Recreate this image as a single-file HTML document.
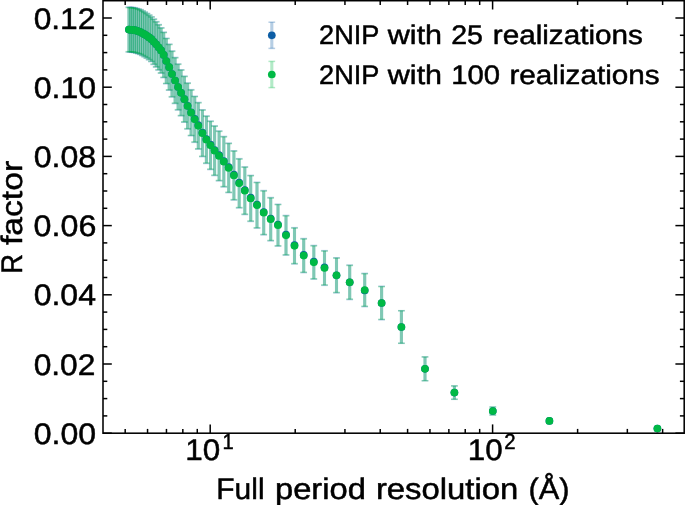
<!DOCTYPE html>
<html lang="en">
<head>
<meta charset="utf-8">
<title>R factor vs full period resolution</title>
<style>
html,body{margin:0;padding:0;background:#ffffff;}
body{width:685px;height:505px;overflow:hidden;font-family:"Liberation Sans",sans-serif;}
svg{display:block;will-change:transform;}
</style>
</head>
<body>
<svg width="685" height="505" viewBox="0 0 685 505">
<rect x="0" y="0" width="685" height="505" fill="#ffffff"/>
<g id="data">
<g stroke="#0C5DA5" stroke-opacity="0.3" fill="none">
<line x1="657.40" y1="428.00" x2="657.40" y2="429.20" stroke-width="3.1"/>
<line x1="549.40" y1="419.30" x2="549.40" y2="422.50" stroke-width="3.1"/>
<line x1="492.80" y1="407.00" x2="492.80" y2="415.00" stroke-width="3.1"/>
<line x1="454.40" y1="385.90" x2="454.40" y2="399.30" stroke-width="3.1"/>
<line x1="425.00" y1="356.90" x2="425.00" y2="380.70" stroke-width="3.1"/>
<line x1="401.40" y1="310.70" x2="401.40" y2="343.30" stroke-width="3.1"/>
<line x1="381.60" y1="286.25" x2="381.60" y2="319.75" stroke-width="3.1"/>
<line x1="364.70" y1="273.35" x2="364.70" y2="306.65" stroke-width="3.1"/>
<line x1="349.70" y1="265.05" x2="349.70" y2="299.55" stroke-width="3.1"/>
<line x1="336.50" y1="257.75" x2="336.50" y2="292.85" stroke-width="3.1"/>
<line x1="324.50" y1="250.65" x2="324.50" y2="285.35" stroke-width="3.1"/>
<line x1="313.80" y1="245.45" x2="313.80" y2="279.15" stroke-width="3.1"/>
<line x1="303.70" y1="238.55" x2="303.70" y2="272.65" stroke-width="3.1"/>
<line x1="294.50" y1="227.65" x2="294.50" y2="263.95" stroke-width="3.1"/>
<line x1="286.00" y1="215.45" x2="286.00" y2="255.15" stroke-width="3.1"/>
<line x1="278.00" y1="204.25" x2="278.00" y2="246.15" stroke-width="3.1"/>
<line x1="270.70" y1="197.55" x2="270.70" y2="240.85" stroke-width="3.1"/>
<line x1="263.70" y1="190.55" x2="263.70" y2="234.85" stroke-width="3.1"/>
<line x1="257.00" y1="182.25" x2="257.00" y2="228.15" stroke-width="3.1"/>
<line x1="250.70" y1="175.35" x2="250.70" y2="221.45" stroke-width="3.1"/>
<line x1="244.80" y1="166.85" x2="244.80" y2="214.55" stroke-width="3.1"/>
<line x1="239.20" y1="158.65" x2="239.20" y2="207.95" stroke-width="3.1"/>
<line x1="233.90" y1="150.75" x2="233.90" y2="200.05" stroke-width="3.1"/>
<line x1="228.70" y1="143.15" x2="228.70" y2="192.65" stroke-width="3.1"/>
<line x1="223.80" y1="136.45" x2="223.80" y2="186.95" stroke-width="3.1"/>
<line x1="219.10" y1="130.95" x2="219.10" y2="180.85" stroke-width="3.1"/>
<line x1="214.60" y1="125.85" x2="214.60" y2="175.55" stroke-width="3.1"/>
<line x1="210.50" y1="121.05" x2="210.50" y2="169.55" stroke-width="3.1"/>
<line x1="206.40" y1="115.95" x2="206.40" y2="163.45" stroke-width="3.1"/>
<line x1="202.40" y1="109.75" x2="202.40" y2="156.65" stroke-width="3.1"/>
<line x1="198.30" y1="102.45" x2="198.30" y2="149.15" stroke-width="3.1"/>
<line x1="194.70" y1="96.25" x2="194.70" y2="142.35" stroke-width="3.1"/>
<line x1="191.10" y1="89.65" x2="191.10" y2="135.75" stroke-width="3.1"/>
<line x1="187.60" y1="82.95" x2="187.60" y2="129.05" stroke-width="3.1"/>
<line x1="184.40" y1="76.15" x2="184.40" y2="122.25" stroke-width="3.1"/>
<line x1="181.10" y1="69.75" x2="181.10" y2="115.85" stroke-width="3.1"/>
<line x1="178.10" y1="63.95" x2="178.10" y2="110.05" stroke-width="3.1"/>
<line x1="175.10" y1="57.45" x2="175.10" y2="103.55" stroke-width="3.1"/>
<line x1="172.00" y1="50.95" x2="172.00" y2="97.05" stroke-width="3.1"/>
<line x1="169.20" y1="44.15" x2="169.20" y2="90.25" stroke-width="3.1"/>
<line x1="166.30" y1="38.25" x2="166.30" y2="83.75" stroke-width="3.1"/>
<line x1="163.70" y1="32.16" x2="163.70" y2="77.66" stroke-width="3.1"/>
<line x1="161.15" y1="27.72" x2="161.15" y2="73.22" stroke-width="3.1"/>
<line x1="158.65" y1="24.58" x2="158.65" y2="70.08" stroke-width="3.1"/>
<line x1="156.20" y1="21.60" x2="156.20" y2="67.10" stroke-width="3.1"/>
<line x1="153.80" y1="18.99" x2="153.80" y2="64.49" stroke-width="3.1"/>
<line x1="151.45" y1="16.74" x2="151.45" y2="61.64" stroke-width="3.1"/>
<line x1="149.15" y1="14.96" x2="149.15" y2="59.86" stroke-width="3.1"/>
<line x1="146.90" y1="13.38" x2="146.90" y2="58.28" stroke-width="3.1"/>
<line x1="144.70" y1="12.01" x2="144.70" y2="56.91" stroke-width="3.1"/>
<line x1="142.55" y1="10.80" x2="142.55" y2="55.70" stroke-width="3.1"/>
<line x1="140.45" y1="9.60" x2="140.45" y2="54.50" stroke-width="3.1"/>
<line x1="138.40" y1="8.87" x2="138.40" y2="53.77" stroke-width="3.1"/>
<line x1="136.40" y1="8.27" x2="136.40" y2="53.17" stroke-width="3.1"/>
<line x1="134.45" y1="7.68" x2="134.45" y2="52.58" stroke-width="3.1"/>
<line x1="132.55" y1="7.43" x2="132.55" y2="52.33" stroke-width="3.1"/>
<line x1="130.70" y1="7.29" x2="130.70" y2="52.19" stroke-width="3.1"/>
<line x1="128.90" y1="7.15" x2="128.90" y2="52.05" stroke-width="3.1"/>
<line x1="654.05" y1="428.00" x2="660.75" y2="428.00" stroke-width="1.5"/>
<line x1="654.05" y1="429.20" x2="660.75" y2="429.20" stroke-width="1.5"/>
<line x1="546.05" y1="419.30" x2="552.75" y2="419.30" stroke-width="1.5"/>
<line x1="546.05" y1="422.50" x2="552.75" y2="422.50" stroke-width="1.5"/>
<line x1="489.45" y1="407.00" x2="496.15" y2="407.00" stroke-width="1.5"/>
<line x1="489.45" y1="415.00" x2="496.15" y2="415.00" stroke-width="1.5"/>
<line x1="451.05" y1="385.90" x2="457.75" y2="385.90" stroke-width="1.5"/>
<line x1="451.05" y1="399.30" x2="457.75" y2="399.30" stroke-width="1.5"/>
<line x1="421.65" y1="356.90" x2="428.35" y2="356.90" stroke-width="1.5"/>
<line x1="421.65" y1="380.70" x2="428.35" y2="380.70" stroke-width="1.5"/>
<line x1="398.05" y1="310.70" x2="404.75" y2="310.70" stroke-width="1.5"/>
<line x1="398.05" y1="343.30" x2="404.75" y2="343.30" stroke-width="1.5"/>
<line x1="378.25" y1="286.25" x2="384.95" y2="286.25" stroke-width="1.5"/>
<line x1="378.25" y1="319.75" x2="384.95" y2="319.75" stroke-width="1.5"/>
<line x1="361.35" y1="273.35" x2="368.05" y2="273.35" stroke-width="1.5"/>
<line x1="361.35" y1="306.65" x2="368.05" y2="306.65" stroke-width="1.5"/>
<line x1="346.35" y1="265.05" x2="353.05" y2="265.05" stroke-width="1.5"/>
<line x1="346.35" y1="299.55" x2="353.05" y2="299.55" stroke-width="1.5"/>
<line x1="333.15" y1="257.75" x2="339.85" y2="257.75" stroke-width="1.5"/>
<line x1="333.15" y1="292.85" x2="339.85" y2="292.85" stroke-width="1.5"/>
<line x1="321.15" y1="250.65" x2="327.85" y2="250.65" stroke-width="1.5"/>
<line x1="321.15" y1="285.35" x2="327.85" y2="285.35" stroke-width="1.5"/>
<line x1="310.45" y1="245.45" x2="317.15" y2="245.45" stroke-width="1.5"/>
<line x1="310.45" y1="279.15" x2="317.15" y2="279.15" stroke-width="1.5"/>
<line x1="300.35" y1="238.55" x2="307.05" y2="238.55" stroke-width="1.5"/>
<line x1="300.35" y1="272.65" x2="307.05" y2="272.65" stroke-width="1.5"/>
<line x1="291.15" y1="227.65" x2="297.85" y2="227.65" stroke-width="1.5"/>
<line x1="291.15" y1="263.95" x2="297.85" y2="263.95" stroke-width="1.5"/>
<line x1="282.65" y1="215.45" x2="289.35" y2="215.45" stroke-width="1.5"/>
<line x1="282.65" y1="255.15" x2="289.35" y2="255.15" stroke-width="1.5"/>
<line x1="274.65" y1="204.25" x2="281.35" y2="204.25" stroke-width="1.5"/>
<line x1="274.65" y1="246.15" x2="281.35" y2="246.15" stroke-width="1.5"/>
<line x1="267.35" y1="197.55" x2="274.05" y2="197.55" stroke-width="1.5"/>
<line x1="267.35" y1="240.85" x2="274.05" y2="240.85" stroke-width="1.5"/>
<line x1="260.35" y1="190.55" x2="267.05" y2="190.55" stroke-width="1.5"/>
<line x1="260.35" y1="234.85" x2="267.05" y2="234.85" stroke-width="1.5"/>
<line x1="253.65" y1="182.25" x2="260.35" y2="182.25" stroke-width="1.5"/>
<line x1="253.65" y1="228.15" x2="260.35" y2="228.15" stroke-width="1.5"/>
<line x1="247.35" y1="175.35" x2="254.05" y2="175.35" stroke-width="1.5"/>
<line x1="247.35" y1="221.45" x2="254.05" y2="221.45" stroke-width="1.5"/>
<line x1="241.45" y1="166.85" x2="248.15" y2="166.85" stroke-width="1.5"/>
<line x1="241.45" y1="214.55" x2="248.15" y2="214.55" stroke-width="1.5"/>
<line x1="235.85" y1="158.65" x2="242.55" y2="158.65" stroke-width="1.5"/>
<line x1="235.85" y1="207.95" x2="242.55" y2="207.95" stroke-width="1.5"/>
<line x1="230.55" y1="150.75" x2="237.25" y2="150.75" stroke-width="1.5"/>
<line x1="230.55" y1="200.05" x2="237.25" y2="200.05" stroke-width="1.5"/>
<line x1="225.35" y1="143.15" x2="232.05" y2="143.15" stroke-width="1.5"/>
<line x1="225.35" y1="192.65" x2="232.05" y2="192.65" stroke-width="1.5"/>
<line x1="220.45" y1="136.45" x2="227.15" y2="136.45" stroke-width="1.5"/>
<line x1="220.45" y1="186.95" x2="227.15" y2="186.95" stroke-width="1.5"/>
<line x1="215.75" y1="130.95" x2="222.45" y2="130.95" stroke-width="1.5"/>
<line x1="215.75" y1="180.85" x2="222.45" y2="180.85" stroke-width="1.5"/>
<line x1="211.25" y1="125.85" x2="217.95" y2="125.85" stroke-width="1.5"/>
<line x1="211.25" y1="175.55" x2="217.95" y2="175.55" stroke-width="1.5"/>
<line x1="207.15" y1="121.05" x2="213.85" y2="121.05" stroke-width="1.5"/>
<line x1="207.15" y1="169.55" x2="213.85" y2="169.55" stroke-width="1.5"/>
<line x1="203.05" y1="115.95" x2="209.75" y2="115.95" stroke-width="1.5"/>
<line x1="203.05" y1="163.45" x2="209.75" y2="163.45" stroke-width="1.5"/>
<line x1="199.05" y1="109.75" x2="205.75" y2="109.75" stroke-width="1.5"/>
<line x1="199.05" y1="156.65" x2="205.75" y2="156.65" stroke-width="1.5"/>
<line x1="194.95" y1="102.45" x2="201.65" y2="102.45" stroke-width="1.5"/>
<line x1="194.95" y1="149.15" x2="201.65" y2="149.15" stroke-width="1.5"/>
<line x1="191.35" y1="96.25" x2="198.05" y2="96.25" stroke-width="1.5"/>
<line x1="191.35" y1="142.35" x2="198.05" y2="142.35" stroke-width="1.5"/>
<line x1="187.75" y1="89.65" x2="194.45" y2="89.65" stroke-width="1.5"/>
<line x1="187.75" y1="135.75" x2="194.45" y2="135.75" stroke-width="1.5"/>
<line x1="184.25" y1="82.95" x2="190.95" y2="82.95" stroke-width="1.5"/>
<line x1="184.25" y1="129.05" x2="190.95" y2="129.05" stroke-width="1.5"/>
<line x1="181.05" y1="76.15" x2="187.75" y2="76.15" stroke-width="1.5"/>
<line x1="181.05" y1="122.25" x2="187.75" y2="122.25" stroke-width="1.5"/>
<line x1="177.75" y1="69.75" x2="184.45" y2="69.75" stroke-width="1.5"/>
<line x1="177.75" y1="115.85" x2="184.45" y2="115.85" stroke-width="1.5"/>
<line x1="174.75" y1="63.95" x2="181.45" y2="63.95" stroke-width="1.5"/>
<line x1="174.75" y1="110.05" x2="181.45" y2="110.05" stroke-width="1.5"/>
<line x1="171.75" y1="57.45" x2="178.45" y2="57.45" stroke-width="1.5"/>
<line x1="171.75" y1="103.55" x2="178.45" y2="103.55" stroke-width="1.5"/>
<line x1="168.65" y1="50.95" x2="175.35" y2="50.95" stroke-width="1.5"/>
<line x1="168.65" y1="97.05" x2="175.35" y2="97.05" stroke-width="1.5"/>
<line x1="165.85" y1="44.15" x2="172.55" y2="44.15" stroke-width="1.5"/>
<line x1="165.85" y1="90.25" x2="172.55" y2="90.25" stroke-width="1.5"/>
<line x1="162.95" y1="38.25" x2="169.65" y2="38.25" stroke-width="1.5"/>
<line x1="162.95" y1="83.75" x2="169.65" y2="83.75" stroke-width="1.5"/>
<line x1="160.35" y1="32.16" x2="167.05" y2="32.16" stroke-width="1.5"/>
<line x1="160.35" y1="77.66" x2="167.05" y2="77.66" stroke-width="1.5"/>
<line x1="157.80" y1="27.72" x2="164.50" y2="27.72" stroke-width="1.5"/>
<line x1="157.80" y1="73.22" x2="164.50" y2="73.22" stroke-width="1.5"/>
<line x1="155.30" y1="24.58" x2="162.00" y2="24.58" stroke-width="1.5"/>
<line x1="155.30" y1="70.08" x2="162.00" y2="70.08" stroke-width="1.5"/>
<line x1="152.85" y1="21.60" x2="159.55" y2="21.60" stroke-width="1.5"/>
<line x1="152.85" y1="67.10" x2="159.55" y2="67.10" stroke-width="1.5"/>
<line x1="150.45" y1="18.99" x2="157.15" y2="18.99" stroke-width="1.5"/>
<line x1="150.45" y1="64.49" x2="157.15" y2="64.49" stroke-width="1.5"/>
<line x1="148.10" y1="16.74" x2="154.80" y2="16.74" stroke-width="1.5"/>
<line x1="148.10" y1="61.64" x2="154.80" y2="61.64" stroke-width="1.5"/>
<line x1="145.80" y1="14.96" x2="152.50" y2="14.96" stroke-width="1.5"/>
<line x1="145.80" y1="59.86" x2="152.50" y2="59.86" stroke-width="1.5"/>
<line x1="143.55" y1="13.38" x2="150.25" y2="13.38" stroke-width="1.5"/>
<line x1="143.55" y1="58.28" x2="150.25" y2="58.28" stroke-width="1.5"/>
<line x1="141.35" y1="12.01" x2="148.05" y2="12.01" stroke-width="1.5"/>
<line x1="141.35" y1="56.91" x2="148.05" y2="56.91" stroke-width="1.5"/>
<line x1="139.20" y1="10.80" x2="145.90" y2="10.80" stroke-width="1.5"/>
<line x1="139.20" y1="55.70" x2="145.90" y2="55.70" stroke-width="1.5"/>
<line x1="137.10" y1="9.60" x2="143.80" y2="9.60" stroke-width="1.5"/>
<line x1="137.10" y1="54.50" x2="143.80" y2="54.50" stroke-width="1.5"/>
<line x1="135.05" y1="8.87" x2="141.75" y2="8.87" stroke-width="1.5"/>
<line x1="135.05" y1="53.77" x2="141.75" y2="53.77" stroke-width="1.5"/>
<line x1="133.05" y1="8.27" x2="139.75" y2="8.27" stroke-width="1.5"/>
<line x1="133.05" y1="53.17" x2="139.75" y2="53.17" stroke-width="1.5"/>
<line x1="131.10" y1="7.68" x2="137.80" y2="7.68" stroke-width="1.5"/>
<line x1="131.10" y1="52.58" x2="137.80" y2="52.58" stroke-width="1.5"/>
<line x1="129.20" y1="7.43" x2="135.90" y2="7.43" stroke-width="1.5"/>
<line x1="129.20" y1="52.33" x2="135.90" y2="52.33" stroke-width="1.5"/>
<line x1="127.35" y1="7.29" x2="134.05" y2="7.29" stroke-width="1.5"/>
<line x1="127.35" y1="52.19" x2="134.05" y2="52.19" stroke-width="1.5"/>
<line x1="125.55" y1="7.15" x2="132.25" y2="7.15" stroke-width="1.5"/>
<line x1="125.55" y1="52.05" x2="132.25" y2="52.05" stroke-width="1.5"/>
</g>
<g stroke="#00B945" stroke-opacity="0.3" fill="none">
<line x1="657.40" y1="428.00" x2="657.40" y2="429.20" stroke-width="3.1"/>
<line x1="549.40" y1="419.30" x2="549.40" y2="422.50" stroke-width="3.1"/>
<line x1="492.80" y1="407.00" x2="492.80" y2="415.00" stroke-width="3.1"/>
<line x1="454.40" y1="385.90" x2="454.40" y2="399.30" stroke-width="3.1"/>
<line x1="425.00" y1="356.90" x2="425.00" y2="380.70" stroke-width="3.1"/>
<line x1="401.40" y1="310.70" x2="401.40" y2="343.30" stroke-width="3.1"/>
<line x1="381.60" y1="286.70" x2="381.60" y2="319.30" stroke-width="3.1"/>
<line x1="364.70" y1="273.80" x2="364.70" y2="306.20" stroke-width="3.1"/>
<line x1="349.70" y1="265.50" x2="349.70" y2="299.10" stroke-width="3.1"/>
<line x1="336.50" y1="258.20" x2="336.50" y2="292.40" stroke-width="3.1"/>
<line x1="324.50" y1="251.10" x2="324.50" y2="284.90" stroke-width="3.1"/>
<line x1="313.80" y1="245.90" x2="313.80" y2="278.70" stroke-width="3.1"/>
<line x1="303.70" y1="239.00" x2="303.70" y2="272.20" stroke-width="3.1"/>
<line x1="294.50" y1="228.10" x2="294.50" y2="263.50" stroke-width="3.1"/>
<line x1="286.00" y1="215.90" x2="286.00" y2="254.70" stroke-width="3.1"/>
<line x1="278.00" y1="204.70" x2="278.00" y2="245.70" stroke-width="3.1"/>
<line x1="270.70" y1="198.00" x2="270.70" y2="240.40" stroke-width="3.1"/>
<line x1="263.70" y1="191.00" x2="263.70" y2="234.40" stroke-width="3.1"/>
<line x1="257.00" y1="182.70" x2="257.00" y2="227.70" stroke-width="3.1"/>
<line x1="250.70" y1="175.80" x2="250.70" y2="221.00" stroke-width="3.1"/>
<line x1="244.80" y1="167.30" x2="244.80" y2="214.10" stroke-width="3.1"/>
<line x1="239.20" y1="159.10" x2="239.20" y2="207.50" stroke-width="3.1"/>
<line x1="233.90" y1="151.20" x2="233.90" y2="199.60" stroke-width="3.1"/>
<line x1="228.70" y1="143.60" x2="228.70" y2="192.20" stroke-width="3.1"/>
<line x1="223.80" y1="136.90" x2="223.80" y2="186.50" stroke-width="3.1"/>
<line x1="219.10" y1="131.40" x2="219.10" y2="180.40" stroke-width="3.1"/>
<line x1="214.60" y1="126.30" x2="214.60" y2="175.10" stroke-width="3.1"/>
<line x1="210.50" y1="121.50" x2="210.50" y2="169.10" stroke-width="3.1"/>
<line x1="206.40" y1="116.40" x2="206.40" y2="163.00" stroke-width="3.1"/>
<line x1="202.40" y1="110.20" x2="202.40" y2="156.20" stroke-width="3.1"/>
<line x1="198.30" y1="102.90" x2="198.30" y2="148.70" stroke-width="3.1"/>
<line x1="194.70" y1="96.70" x2="194.70" y2="141.90" stroke-width="3.1"/>
<line x1="191.10" y1="90.10" x2="191.10" y2="135.30" stroke-width="3.1"/>
<line x1="187.60" y1="83.40" x2="187.60" y2="128.60" stroke-width="3.1"/>
<line x1="184.40" y1="76.60" x2="184.40" y2="121.80" stroke-width="3.1"/>
<line x1="181.10" y1="70.20" x2="181.10" y2="115.40" stroke-width="3.1"/>
<line x1="178.10" y1="64.40" x2="178.10" y2="109.60" stroke-width="3.1"/>
<line x1="175.10" y1="57.90" x2="175.10" y2="103.10" stroke-width="3.1"/>
<line x1="172.00" y1="51.40" x2="172.00" y2="96.60" stroke-width="3.1"/>
<line x1="169.20" y1="44.60" x2="169.20" y2="89.80" stroke-width="3.1"/>
<line x1="166.30" y1="38.70" x2="166.30" y2="83.30" stroke-width="3.1"/>
<line x1="163.70" y1="32.61" x2="163.70" y2="77.21" stroke-width="3.1"/>
<line x1="161.15" y1="28.17" x2="161.15" y2="72.77" stroke-width="3.1"/>
<line x1="158.65" y1="25.03" x2="158.65" y2="69.63" stroke-width="3.1"/>
<line x1="156.20" y1="22.05" x2="156.20" y2="66.65" stroke-width="3.1"/>
<line x1="153.80" y1="19.44" x2="153.80" y2="64.04" stroke-width="3.1"/>
<line x1="151.45" y1="17.19" x2="151.45" y2="61.19" stroke-width="3.1"/>
<line x1="149.15" y1="15.41" x2="149.15" y2="59.41" stroke-width="3.1"/>
<line x1="146.90" y1="13.83" x2="146.90" y2="57.83" stroke-width="3.1"/>
<line x1="144.70" y1="12.46" x2="144.70" y2="56.46" stroke-width="3.1"/>
<line x1="142.55" y1="11.25" x2="142.55" y2="55.25" stroke-width="3.1"/>
<line x1="140.45" y1="10.05" x2="140.45" y2="54.05" stroke-width="3.1"/>
<line x1="138.40" y1="9.32" x2="138.40" y2="53.32" stroke-width="3.1"/>
<line x1="136.40" y1="8.72" x2="136.40" y2="52.72" stroke-width="3.1"/>
<line x1="134.45" y1="8.13" x2="134.45" y2="52.13" stroke-width="3.1"/>
<line x1="132.55" y1="7.88" x2="132.55" y2="51.88" stroke-width="3.1"/>
<line x1="130.70" y1="7.74" x2="130.70" y2="51.74" stroke-width="3.1"/>
<line x1="128.90" y1="7.60" x2="128.90" y2="51.60" stroke-width="3.1"/>
<line x1="654.05" y1="428.00" x2="660.75" y2="428.00" stroke-width="1.5"/>
<line x1="654.05" y1="429.20" x2="660.75" y2="429.20" stroke-width="1.5"/>
<line x1="546.05" y1="419.30" x2="552.75" y2="419.30" stroke-width="1.5"/>
<line x1="546.05" y1="422.50" x2="552.75" y2="422.50" stroke-width="1.5"/>
<line x1="489.45" y1="407.00" x2="496.15" y2="407.00" stroke-width="1.5"/>
<line x1="489.45" y1="415.00" x2="496.15" y2="415.00" stroke-width="1.5"/>
<line x1="451.05" y1="385.90" x2="457.75" y2="385.90" stroke-width="1.5"/>
<line x1="451.05" y1="399.30" x2="457.75" y2="399.30" stroke-width="1.5"/>
<line x1="421.65" y1="356.90" x2="428.35" y2="356.90" stroke-width="1.5"/>
<line x1="421.65" y1="380.70" x2="428.35" y2="380.70" stroke-width="1.5"/>
<line x1="398.05" y1="310.70" x2="404.75" y2="310.70" stroke-width="1.5"/>
<line x1="398.05" y1="343.30" x2="404.75" y2="343.30" stroke-width="1.5"/>
<line x1="378.25" y1="286.70" x2="384.95" y2="286.70" stroke-width="1.5"/>
<line x1="378.25" y1="319.30" x2="384.95" y2="319.30" stroke-width="1.5"/>
<line x1="361.35" y1="273.80" x2="368.05" y2="273.80" stroke-width="1.5"/>
<line x1="361.35" y1="306.20" x2="368.05" y2="306.20" stroke-width="1.5"/>
<line x1="346.35" y1="265.50" x2="353.05" y2="265.50" stroke-width="1.5"/>
<line x1="346.35" y1="299.10" x2="353.05" y2="299.10" stroke-width="1.5"/>
<line x1="333.15" y1="258.20" x2="339.85" y2="258.20" stroke-width="1.5"/>
<line x1="333.15" y1="292.40" x2="339.85" y2="292.40" stroke-width="1.5"/>
<line x1="321.15" y1="251.10" x2="327.85" y2="251.10" stroke-width="1.5"/>
<line x1="321.15" y1="284.90" x2="327.85" y2="284.90" stroke-width="1.5"/>
<line x1="310.45" y1="245.90" x2="317.15" y2="245.90" stroke-width="1.5"/>
<line x1="310.45" y1="278.70" x2="317.15" y2="278.70" stroke-width="1.5"/>
<line x1="300.35" y1="239.00" x2="307.05" y2="239.00" stroke-width="1.5"/>
<line x1="300.35" y1="272.20" x2="307.05" y2="272.20" stroke-width="1.5"/>
<line x1="291.15" y1="228.10" x2="297.85" y2="228.10" stroke-width="1.5"/>
<line x1="291.15" y1="263.50" x2="297.85" y2="263.50" stroke-width="1.5"/>
<line x1="282.65" y1="215.90" x2="289.35" y2="215.90" stroke-width="1.5"/>
<line x1="282.65" y1="254.70" x2="289.35" y2="254.70" stroke-width="1.5"/>
<line x1="274.65" y1="204.70" x2="281.35" y2="204.70" stroke-width="1.5"/>
<line x1="274.65" y1="245.70" x2="281.35" y2="245.70" stroke-width="1.5"/>
<line x1="267.35" y1="198.00" x2="274.05" y2="198.00" stroke-width="1.5"/>
<line x1="267.35" y1="240.40" x2="274.05" y2="240.40" stroke-width="1.5"/>
<line x1="260.35" y1="191.00" x2="267.05" y2="191.00" stroke-width="1.5"/>
<line x1="260.35" y1="234.40" x2="267.05" y2="234.40" stroke-width="1.5"/>
<line x1="253.65" y1="182.70" x2="260.35" y2="182.70" stroke-width="1.5"/>
<line x1="253.65" y1="227.70" x2="260.35" y2="227.70" stroke-width="1.5"/>
<line x1="247.35" y1="175.80" x2="254.05" y2="175.80" stroke-width="1.5"/>
<line x1="247.35" y1="221.00" x2="254.05" y2="221.00" stroke-width="1.5"/>
<line x1="241.45" y1="167.30" x2="248.15" y2="167.30" stroke-width="1.5"/>
<line x1="241.45" y1="214.10" x2="248.15" y2="214.10" stroke-width="1.5"/>
<line x1="235.85" y1="159.10" x2="242.55" y2="159.10" stroke-width="1.5"/>
<line x1="235.85" y1="207.50" x2="242.55" y2="207.50" stroke-width="1.5"/>
<line x1="230.55" y1="151.20" x2="237.25" y2="151.20" stroke-width="1.5"/>
<line x1="230.55" y1="199.60" x2="237.25" y2="199.60" stroke-width="1.5"/>
<line x1="225.35" y1="143.60" x2="232.05" y2="143.60" stroke-width="1.5"/>
<line x1="225.35" y1="192.20" x2="232.05" y2="192.20" stroke-width="1.5"/>
<line x1="220.45" y1="136.90" x2="227.15" y2="136.90" stroke-width="1.5"/>
<line x1="220.45" y1="186.50" x2="227.15" y2="186.50" stroke-width="1.5"/>
<line x1="215.75" y1="131.40" x2="222.45" y2="131.40" stroke-width="1.5"/>
<line x1="215.75" y1="180.40" x2="222.45" y2="180.40" stroke-width="1.5"/>
<line x1="211.25" y1="126.30" x2="217.95" y2="126.30" stroke-width="1.5"/>
<line x1="211.25" y1="175.10" x2="217.95" y2="175.10" stroke-width="1.5"/>
<line x1="207.15" y1="121.50" x2="213.85" y2="121.50" stroke-width="1.5"/>
<line x1="207.15" y1="169.10" x2="213.85" y2="169.10" stroke-width="1.5"/>
<line x1="203.05" y1="116.40" x2="209.75" y2="116.40" stroke-width="1.5"/>
<line x1="203.05" y1="163.00" x2="209.75" y2="163.00" stroke-width="1.5"/>
<line x1="199.05" y1="110.20" x2="205.75" y2="110.20" stroke-width="1.5"/>
<line x1="199.05" y1="156.20" x2="205.75" y2="156.20" stroke-width="1.5"/>
<line x1="194.95" y1="102.90" x2="201.65" y2="102.90" stroke-width="1.5"/>
<line x1="194.95" y1="148.70" x2="201.65" y2="148.70" stroke-width="1.5"/>
<line x1="191.35" y1="96.70" x2="198.05" y2="96.70" stroke-width="1.5"/>
<line x1="191.35" y1="141.90" x2="198.05" y2="141.90" stroke-width="1.5"/>
<line x1="187.75" y1="90.10" x2="194.45" y2="90.10" stroke-width="1.5"/>
<line x1="187.75" y1="135.30" x2="194.45" y2="135.30" stroke-width="1.5"/>
<line x1="184.25" y1="83.40" x2="190.95" y2="83.40" stroke-width="1.5"/>
<line x1="184.25" y1="128.60" x2="190.95" y2="128.60" stroke-width="1.5"/>
<line x1="181.05" y1="76.60" x2="187.75" y2="76.60" stroke-width="1.5"/>
<line x1="181.05" y1="121.80" x2="187.75" y2="121.80" stroke-width="1.5"/>
<line x1="177.75" y1="70.20" x2="184.45" y2="70.20" stroke-width="1.5"/>
<line x1="177.75" y1="115.40" x2="184.45" y2="115.40" stroke-width="1.5"/>
<line x1="174.75" y1="64.40" x2="181.45" y2="64.40" stroke-width="1.5"/>
<line x1="174.75" y1="109.60" x2="181.45" y2="109.60" stroke-width="1.5"/>
<line x1="171.75" y1="57.90" x2="178.45" y2="57.90" stroke-width="1.5"/>
<line x1="171.75" y1="103.10" x2="178.45" y2="103.10" stroke-width="1.5"/>
<line x1="168.65" y1="51.40" x2="175.35" y2="51.40" stroke-width="1.5"/>
<line x1="168.65" y1="96.60" x2="175.35" y2="96.60" stroke-width="1.5"/>
<line x1="165.85" y1="44.60" x2="172.55" y2="44.60" stroke-width="1.5"/>
<line x1="165.85" y1="89.80" x2="172.55" y2="89.80" stroke-width="1.5"/>
<line x1="162.95" y1="38.70" x2="169.65" y2="38.70" stroke-width="1.5"/>
<line x1="162.95" y1="83.30" x2="169.65" y2="83.30" stroke-width="1.5"/>
<line x1="160.35" y1="32.61" x2="167.05" y2="32.61" stroke-width="1.5"/>
<line x1="160.35" y1="77.21" x2="167.05" y2="77.21" stroke-width="1.5"/>
<line x1="157.80" y1="28.17" x2="164.50" y2="28.17" stroke-width="1.5"/>
<line x1="157.80" y1="72.77" x2="164.50" y2="72.77" stroke-width="1.5"/>
<line x1="155.30" y1="25.03" x2="162.00" y2="25.03" stroke-width="1.5"/>
<line x1="155.30" y1="69.63" x2="162.00" y2="69.63" stroke-width="1.5"/>
<line x1="152.85" y1="22.05" x2="159.55" y2="22.05" stroke-width="1.5"/>
<line x1="152.85" y1="66.65" x2="159.55" y2="66.65" stroke-width="1.5"/>
<line x1="150.45" y1="19.44" x2="157.15" y2="19.44" stroke-width="1.5"/>
<line x1="150.45" y1="64.04" x2="157.15" y2="64.04" stroke-width="1.5"/>
<line x1="148.10" y1="17.19" x2="154.80" y2="17.19" stroke-width="1.5"/>
<line x1="148.10" y1="61.19" x2="154.80" y2="61.19" stroke-width="1.5"/>
<line x1="145.80" y1="15.41" x2="152.50" y2="15.41" stroke-width="1.5"/>
<line x1="145.80" y1="59.41" x2="152.50" y2="59.41" stroke-width="1.5"/>
<line x1="143.55" y1="13.83" x2="150.25" y2="13.83" stroke-width="1.5"/>
<line x1="143.55" y1="57.83" x2="150.25" y2="57.83" stroke-width="1.5"/>
<line x1="141.35" y1="12.46" x2="148.05" y2="12.46" stroke-width="1.5"/>
<line x1="141.35" y1="56.46" x2="148.05" y2="56.46" stroke-width="1.5"/>
<line x1="139.20" y1="11.25" x2="145.90" y2="11.25" stroke-width="1.5"/>
<line x1="139.20" y1="55.25" x2="145.90" y2="55.25" stroke-width="1.5"/>
<line x1="137.10" y1="10.05" x2="143.80" y2="10.05" stroke-width="1.5"/>
<line x1="137.10" y1="54.05" x2="143.80" y2="54.05" stroke-width="1.5"/>
<line x1="135.05" y1="9.32" x2="141.75" y2="9.32" stroke-width="1.5"/>
<line x1="135.05" y1="53.32" x2="141.75" y2="53.32" stroke-width="1.5"/>
<line x1="133.05" y1="8.72" x2="139.75" y2="8.72" stroke-width="1.5"/>
<line x1="133.05" y1="52.72" x2="139.75" y2="52.72" stroke-width="1.5"/>
<line x1="131.10" y1="8.13" x2="137.80" y2="8.13" stroke-width="1.5"/>
<line x1="131.10" y1="52.13" x2="137.80" y2="52.13" stroke-width="1.5"/>
<line x1="129.20" y1="7.88" x2="135.90" y2="7.88" stroke-width="1.5"/>
<line x1="129.20" y1="51.88" x2="135.90" y2="51.88" stroke-width="1.5"/>
<line x1="127.35" y1="7.74" x2="134.05" y2="7.74" stroke-width="1.5"/>
<line x1="127.35" y1="51.74" x2="134.05" y2="51.74" stroke-width="1.5"/>
<line x1="125.55" y1="7.60" x2="132.25" y2="7.60" stroke-width="1.5"/>
<line x1="125.55" y1="51.60" x2="132.25" y2="51.60" stroke-width="1.5"/>
</g>
<g fill="#0C5DA5">
<circle cx="657.40" cy="428.60" r="3.85"/>
<circle cx="549.40" cy="420.90" r="3.85"/>
<circle cx="492.80" cy="411.00" r="3.85"/>
<circle cx="454.40" cy="392.60" r="3.85"/>
<circle cx="425.00" cy="368.80" r="3.85"/>
<circle cx="401.40" cy="327.00" r="3.85"/>
<circle cx="381.60" cy="303.00" r="3.85"/>
<circle cx="364.70" cy="290.50" r="3.85"/>
<circle cx="349.70" cy="282.30" r="3.85"/>
<circle cx="336.50" cy="275.30" r="3.85"/>
<circle cx="324.50" cy="267.30" r="3.85"/>
<circle cx="313.80" cy="261.60" r="3.85"/>
<circle cx="303.70" cy="254.90" r="3.85"/>
<circle cx="294.50" cy="245.10" r="3.85"/>
<circle cx="286.00" cy="234.60" r="3.85"/>
<circle cx="278.00" cy="224.50" r="3.85"/>
<circle cx="270.70" cy="218.50" r="3.85"/>
<circle cx="263.70" cy="212.00" r="3.85"/>
<circle cx="257.00" cy="204.50" r="3.85"/>
<circle cx="250.70" cy="197.70" r="3.85"/>
<circle cx="244.80" cy="190.00" r="3.85"/>
<circle cx="239.20" cy="182.60" r="3.85"/>
<circle cx="233.90" cy="174.70" r="3.85"/>
<circle cx="228.70" cy="167.20" r="3.85"/>
<circle cx="223.80" cy="161.00" r="3.85"/>
<circle cx="219.10" cy="155.20" r="3.85"/>
<circle cx="214.60" cy="150.00" r="3.85"/>
<circle cx="210.50" cy="144.60" r="3.85"/>
<circle cx="206.40" cy="139.00" r="3.85"/>
<circle cx="202.40" cy="132.50" r="3.85"/>
<circle cx="198.30" cy="125.10" r="3.85"/>
<circle cx="194.70" cy="118.77" r="3.85"/>
<circle cx="191.10" cy="112.35" r="3.85"/>
<circle cx="187.60" cy="105.83" r="3.85"/>
<circle cx="184.40" cy="99.20" r="3.85"/>
<circle cx="181.10" cy="92.80" r="3.85"/>
<circle cx="178.10" cy="87.00" r="3.85"/>
<circle cx="175.10" cy="80.50" r="3.85"/>
<circle cx="172.00" cy="74.00" r="3.85"/>
<circle cx="169.20" cy="67.20" r="3.85"/>
<circle cx="166.30" cy="61.00" r="3.85"/>
<circle cx="163.70" cy="54.91" r="3.85"/>
<circle cx="161.15" cy="50.47" r="3.85"/>
<circle cx="158.65" cy="47.33" r="3.85"/>
<circle cx="156.20" cy="44.35" r="3.85"/>
<circle cx="153.80" cy="41.74" r="3.85"/>
<circle cx="151.45" cy="39.19" r="3.85"/>
<circle cx="149.15" cy="37.41" r="3.85"/>
<circle cx="146.90" cy="35.83" r="3.85"/>
<circle cx="144.70" cy="34.46" r="3.85"/>
<circle cx="142.55" cy="33.25" r="3.85"/>
<circle cx="140.45" cy="32.05" r="3.85"/>
<circle cx="138.40" cy="31.32" r="3.85"/>
<circle cx="136.40" cy="30.72" r="3.85"/>
<circle cx="134.45" cy="30.13" r="3.85"/>
<circle cx="132.55" cy="29.88" r="3.85"/>
<circle cx="130.70" cy="29.74" r="3.85"/>
<circle cx="128.90" cy="29.60" r="3.85"/>
</g>
<g fill="#00B945">
<circle cx="657.40" cy="428.60" r="3.85"/>
<circle cx="549.40" cy="420.90" r="3.85"/>
<circle cx="492.80" cy="411.00" r="3.85"/>
<circle cx="454.40" cy="392.60" r="3.85"/>
<circle cx="425.00" cy="368.80" r="3.85"/>
<circle cx="401.40" cy="327.00" r="3.85"/>
<circle cx="381.60" cy="303.00" r="3.85"/>
<circle cx="364.70" cy="290.00" r="3.85"/>
<circle cx="349.70" cy="282.30" r="3.85"/>
<circle cx="336.50" cy="275.30" r="3.85"/>
<circle cx="324.50" cy="268.00" r="3.85"/>
<circle cx="313.80" cy="262.30" r="3.85"/>
<circle cx="303.70" cy="255.60" r="3.85"/>
<circle cx="294.50" cy="245.80" r="3.85"/>
<circle cx="286.00" cy="235.30" r="3.85"/>
<circle cx="278.00" cy="225.20" r="3.85"/>
<circle cx="270.70" cy="219.20" r="3.85"/>
<circle cx="263.70" cy="212.70" r="3.85"/>
<circle cx="257.00" cy="205.20" r="3.85"/>
<circle cx="250.70" cy="198.40" r="3.85"/>
<circle cx="244.80" cy="190.70" r="3.85"/>
<circle cx="239.20" cy="183.30" r="3.85"/>
<circle cx="233.90" cy="175.40" r="3.85"/>
<circle cx="228.70" cy="167.90" r="3.85"/>
<circle cx="223.80" cy="161.70" r="3.85"/>
<circle cx="219.10" cy="155.90" r="3.85"/>
<circle cx="214.60" cy="150.70" r="3.85"/>
<circle cx="210.50" cy="145.30" r="3.85"/>
<circle cx="206.40" cy="139.70" r="3.85"/>
<circle cx="202.40" cy="133.20" r="3.85"/>
<circle cx="198.30" cy="125.80" r="3.85"/>
<circle cx="194.70" cy="119.30" r="3.85"/>
<circle cx="191.10" cy="112.70" r="3.85"/>
<circle cx="187.60" cy="106.00" r="3.85"/>
<circle cx="184.40" cy="99.20" r="3.85"/>
<circle cx="181.10" cy="92.80" r="3.85"/>
<circle cx="178.10" cy="87.00" r="3.85"/>
<circle cx="175.10" cy="80.50" r="3.85"/>
<circle cx="172.00" cy="74.00" r="3.85"/>
<circle cx="169.20" cy="67.20" r="3.85"/>
<circle cx="166.30" cy="61.00" r="3.85"/>
<circle cx="163.70" cy="54.91" r="3.85"/>
<circle cx="161.15" cy="50.47" r="3.85"/>
<circle cx="158.65" cy="47.33" r="3.85"/>
<circle cx="156.20" cy="44.35" r="3.85"/>
<circle cx="153.80" cy="41.74" r="3.85"/>
<circle cx="151.45" cy="39.19" r="3.85"/>
<circle cx="149.15" cy="37.41" r="3.85"/>
<circle cx="146.90" cy="35.83" r="3.85"/>
<circle cx="144.70" cy="34.46" r="3.85"/>
<circle cx="142.55" cy="33.25" r="3.85"/>
<circle cx="140.45" cy="32.05" r="3.85"/>
<circle cx="138.40" cy="31.32" r="3.85"/>
<circle cx="136.40" cy="30.72" r="3.85"/>
<circle cx="134.45" cy="30.13" r="3.85"/>
<circle cx="132.55" cy="29.88" r="3.85"/>
<circle cx="130.70" cy="29.74" r="3.85"/>
<circle cx="128.90" cy="29.60" r="3.85"/>
</g>
</g>
<g stroke="#000" fill="none" stroke-linecap="butt">
<line x1="210.20" y1="433.2" x2="210.20" y2="424.4" stroke-width="1.5"/>
<line x1="210.20" y1="0.7" x2="210.20" y2="9.5" stroke-width="1.5"/>
<line x1="492.60" y1="433.2" x2="492.60" y2="424.4" stroke-width="1.5"/>
<line x1="492.60" y1="0.7" x2="492.60" y2="9.5" stroke-width="1.5"/>
<line x1="125.19" y1="433.2" x2="125.19" y2="428.9" stroke-width="1.5"/>
<line x1="125.19" y1="0.7" x2="125.19" y2="5.0" stroke-width="1.5"/>
<line x1="147.55" y1="433.2" x2="147.55" y2="428.9" stroke-width="1.5"/>
<line x1="147.55" y1="0.7" x2="147.55" y2="5.0" stroke-width="1.5"/>
<line x1="166.46" y1="433.2" x2="166.46" y2="428.9" stroke-width="1.5"/>
<line x1="166.46" y1="0.7" x2="166.46" y2="5.0" stroke-width="1.5"/>
<line x1="182.83" y1="433.2" x2="182.83" y2="428.9" stroke-width="1.5"/>
<line x1="182.83" y1="0.7" x2="182.83" y2="5.0" stroke-width="1.5"/>
<line x1="197.28" y1="433.2" x2="197.28" y2="428.9" stroke-width="1.5"/>
<line x1="197.28" y1="0.7" x2="197.28" y2="5.0" stroke-width="1.5"/>
<line x1="295.21" y1="433.2" x2="295.21" y2="428.9" stroke-width="1.5"/>
<line x1="295.21" y1="0.7" x2="295.21" y2="5.0" stroke-width="1.5"/>
<line x1="344.94" y1="433.2" x2="344.94" y2="428.9" stroke-width="1.5"/>
<line x1="344.94" y1="0.7" x2="344.94" y2="5.0" stroke-width="1.5"/>
<line x1="380.22" y1="433.2" x2="380.22" y2="428.9" stroke-width="1.5"/>
<line x1="380.22" y1="0.7" x2="380.22" y2="5.0" stroke-width="1.5"/>
<line x1="407.59" y1="433.2" x2="407.59" y2="428.9" stroke-width="1.5"/>
<line x1="407.59" y1="0.7" x2="407.59" y2="5.0" stroke-width="1.5"/>
<line x1="429.95" y1="433.2" x2="429.95" y2="428.9" stroke-width="1.5"/>
<line x1="429.95" y1="0.7" x2="429.95" y2="5.0" stroke-width="1.5"/>
<line x1="448.86" y1="433.2" x2="448.86" y2="428.9" stroke-width="1.5"/>
<line x1="448.86" y1="0.7" x2="448.86" y2="5.0" stroke-width="1.5"/>
<line x1="465.23" y1="433.2" x2="465.23" y2="428.9" stroke-width="1.5"/>
<line x1="465.23" y1="0.7" x2="465.23" y2="5.0" stroke-width="1.5"/>
<line x1="479.68" y1="433.2" x2="479.68" y2="428.9" stroke-width="1.5"/>
<line x1="479.68" y1="0.7" x2="479.68" y2="5.0" stroke-width="1.5"/>
<line x1="577.61" y1="433.2" x2="577.61" y2="428.9" stroke-width="1.5"/>
<line x1="577.61" y1="0.7" x2="577.61" y2="5.0" stroke-width="1.5"/>
<line x1="627.34" y1="433.2" x2="627.34" y2="428.9" stroke-width="1.5"/>
<line x1="627.34" y1="0.7" x2="627.34" y2="5.0" stroke-width="1.5"/>
<line x1="662.62" y1="433.2" x2="662.62" y2="428.9" stroke-width="1.5"/>
<line x1="662.62" y1="0.7" x2="662.62" y2="5.0" stroke-width="1.5"/>
<line x1="103.0" y1="433.20" x2="111.8" y2="433.20" stroke-width="1.5"/>
<line x1="684.2" y1="433.20" x2="675.4000000000001" y2="433.20" stroke-width="1.5"/>
<line x1="103.0" y1="415.90" x2="107.3" y2="415.90" stroke-width="1.5"/>
<line x1="684.2" y1="415.90" x2="679.9000000000001" y2="415.90" stroke-width="1.5"/>
<line x1="103.0" y1="398.60" x2="107.3" y2="398.60" stroke-width="1.5"/>
<line x1="684.2" y1="398.60" x2="679.9000000000001" y2="398.60" stroke-width="1.5"/>
<line x1="103.0" y1="381.30" x2="107.3" y2="381.30" stroke-width="1.5"/>
<line x1="684.2" y1="381.30" x2="679.9000000000001" y2="381.30" stroke-width="1.5"/>
<line x1="103.0" y1="364.00" x2="111.8" y2="364.00" stroke-width="1.5"/>
<line x1="684.2" y1="364.00" x2="675.4000000000001" y2="364.00" stroke-width="1.5"/>
<line x1="103.0" y1="346.70" x2="107.3" y2="346.70" stroke-width="1.5"/>
<line x1="684.2" y1="346.70" x2="679.9000000000001" y2="346.70" stroke-width="1.5"/>
<line x1="103.0" y1="329.40" x2="107.3" y2="329.40" stroke-width="1.5"/>
<line x1="684.2" y1="329.40" x2="679.9000000000001" y2="329.40" stroke-width="1.5"/>
<line x1="103.0" y1="312.10" x2="107.3" y2="312.10" stroke-width="1.5"/>
<line x1="684.2" y1="312.10" x2="679.9000000000001" y2="312.10" stroke-width="1.5"/>
<line x1="103.0" y1="294.80" x2="111.8" y2="294.80" stroke-width="1.5"/>
<line x1="684.2" y1="294.80" x2="675.4000000000001" y2="294.80" stroke-width="1.5"/>
<line x1="103.0" y1="277.50" x2="107.3" y2="277.50" stroke-width="1.5"/>
<line x1="684.2" y1="277.50" x2="679.9000000000001" y2="277.50" stroke-width="1.5"/>
<line x1="103.0" y1="260.20" x2="107.3" y2="260.20" stroke-width="1.5"/>
<line x1="684.2" y1="260.20" x2="679.9000000000001" y2="260.20" stroke-width="1.5"/>
<line x1="103.0" y1="242.90" x2="107.3" y2="242.90" stroke-width="1.5"/>
<line x1="684.2" y1="242.90" x2="679.9000000000001" y2="242.90" stroke-width="1.5"/>
<line x1="103.0" y1="225.60" x2="111.8" y2="225.60" stroke-width="1.5"/>
<line x1="684.2" y1="225.60" x2="675.4000000000001" y2="225.60" stroke-width="1.5"/>
<line x1="103.0" y1="208.30" x2="107.3" y2="208.30" stroke-width="1.5"/>
<line x1="684.2" y1="208.30" x2="679.9000000000001" y2="208.30" stroke-width="1.5"/>
<line x1="103.0" y1="191.00" x2="107.3" y2="191.00" stroke-width="1.5"/>
<line x1="684.2" y1="191.00" x2="679.9000000000001" y2="191.00" stroke-width="1.5"/>
<line x1="103.0" y1="173.70" x2="107.3" y2="173.70" stroke-width="1.5"/>
<line x1="684.2" y1="173.70" x2="679.9000000000001" y2="173.70" stroke-width="1.5"/>
<line x1="103.0" y1="156.40" x2="111.8" y2="156.40" stroke-width="1.5"/>
<line x1="684.2" y1="156.40" x2="675.4000000000001" y2="156.40" stroke-width="1.5"/>
<line x1="103.0" y1="139.10" x2="107.3" y2="139.10" stroke-width="1.5"/>
<line x1="684.2" y1="139.10" x2="679.9000000000001" y2="139.10" stroke-width="1.5"/>
<line x1="103.0" y1="121.80" x2="107.3" y2="121.80" stroke-width="1.5"/>
<line x1="684.2" y1="121.80" x2="679.9000000000001" y2="121.80" stroke-width="1.5"/>
<line x1="103.0" y1="104.50" x2="107.3" y2="104.50" stroke-width="1.5"/>
<line x1="684.2" y1="104.50" x2="679.9000000000001" y2="104.50" stroke-width="1.5"/>
<line x1="103.0" y1="87.20" x2="111.8" y2="87.20" stroke-width="1.5"/>
<line x1="684.2" y1="87.20" x2="675.4000000000001" y2="87.20" stroke-width="1.5"/>
<line x1="103.0" y1="69.90" x2="107.3" y2="69.90" stroke-width="1.5"/>
<line x1="684.2" y1="69.90" x2="679.9000000000001" y2="69.90" stroke-width="1.5"/>
<line x1="103.0" y1="52.60" x2="107.3" y2="52.60" stroke-width="1.5"/>
<line x1="684.2" y1="52.60" x2="679.9000000000001" y2="52.60" stroke-width="1.5"/>
<line x1="103.0" y1="35.30" x2="107.3" y2="35.30" stroke-width="1.5"/>
<line x1="684.2" y1="35.30" x2="679.9000000000001" y2="35.30" stroke-width="1.5"/>
<line x1="103.0" y1="18.00" x2="111.8" y2="18.00" stroke-width="1.5"/>
<line x1="684.2" y1="18.00" x2="675.4000000000001" y2="18.00" stroke-width="1.5"/>
<rect x="103.0" y="0.7" width="581.2" height="432.5" stroke-width="1.55" stroke-linejoin="miter"/>
</g>
<g stroke="#0C5DA5" stroke-opacity="0.3">
<line x1="271.8" y1="22.199999999999996" x2="271.8" y2="48.4" stroke-width="3.1"/>
<line x1="268.45" y1="22.199999999999996" x2="275.15000000000003" y2="22.199999999999996" stroke-width="1.5"/>
<line x1="268.45" y1="48.4" x2="275.15000000000003" y2="48.4" stroke-width="1.5"/>
</g>
<circle cx="271.8" cy="35.3" r="3.85" fill="#0C5DA5"/>
<g stroke="#00B945" stroke-opacity="0.3">
<line x1="271.8" y1="61.4" x2="271.8" y2="87.6" stroke-width="3.1"/>
<line x1="268.45" y1="61.4" x2="275.15000000000003" y2="61.4" stroke-width="1.5"/>
<line x1="268.45" y1="87.6" x2="275.15000000000003" y2="87.6" stroke-width="1.5"/>
</g>
<circle cx="271.8" cy="74.5" r="3.85" fill="#00B945"/>
<g font-family="'Liberation Sans', sans-serif" fill="#000" stroke="#000" stroke-width="0.5" stroke-linejoin="round" text-rendering="geometricPrecision">
<text y="44.4" font-size="26.8" ><tspan x="319.05" textLength="59.82" lengthAdjust="spacingAndGlyphs">2NIP</tspan> <tspan x="387.83" textLength="54.26" lengthAdjust="spacingAndGlyphs">with</tspan> <tspan x="451.15" textLength="31.80" lengthAdjust="spacingAndGlyphs">25</tspan> <tspan x="492.79" textLength="150.13" lengthAdjust="spacingAndGlyphs">realizations</tspan></text>
<text y="83.6" font-size="26.8" ><tspan x="319.05" textLength="59.82" lengthAdjust="spacingAndGlyphs">2NIP</tspan> <tspan x="387.83" textLength="54.26" lengthAdjust="spacingAndGlyphs">with</tspan> <tspan x="451.32" textLength="48.81" lengthAdjust="spacingAndGlyphs">100</tspan> <tspan x="509.48" textLength="150.13" lengthAdjust="spacingAndGlyphs">realizations</tspan></text>
<text y="443.8" font-size="29.7" ><tspan x="33.65" textLength="62.40" lengthAdjust="spacingAndGlyphs">0.00</tspan></text>
<text y="374.6" font-size="29.7" ><tspan x="33.66" textLength="61.77" lengthAdjust="spacingAndGlyphs">0.02</tspan></text>
<text y="305.4" font-size="29.7" ><tspan x="33.65" textLength="62.38" lengthAdjust="spacingAndGlyphs">0.04</tspan></text>
<text y="236.2" font-size="29.7" ><tspan x="33.64" textLength="62.67" lengthAdjust="spacingAndGlyphs">0.06</tspan></text>
<text y="167.0" font-size="29.7" ><tspan x="33.65" textLength="62.49" lengthAdjust="spacingAndGlyphs">0.08</tspan></text>
<text y="97.8" font-size="29.7" ><tspan x="33.65" textLength="62.40" lengthAdjust="spacingAndGlyphs">0.10</tspan></text>
<text y="28.6" font-size="29.7" ><tspan x="33.66" textLength="61.77" lengthAdjust="spacingAndGlyphs">0.12</tspan></text>
<text y="460.3" font-size="29.7" ><tspan x="185.30" textLength="34.97" lengthAdjust="spacingAndGlyphs">10</tspan></text>
<text y="449.0" font-size="21.83" ><tspan x="222.46" textLength="11.21" lengthAdjust="spacingAndGlyphs">1</tspan></text>
<text y="460.3" font-size="29.7" ><tspan x="467.70" textLength="34.97" lengthAdjust="spacingAndGlyphs">10</tspan></text>
<text y="449.0" font-size="21.83" ><tspan x="504.33" textLength="11.31" lengthAdjust="spacingAndGlyphs">2</tspan></text>
<text y="498.8" font-size="29.7" ><tspan x="216.34" textLength="48.24" lengthAdjust="spacingAndGlyphs">Full</tspan> <tspan x="274.97" textLength="90.85" lengthAdjust="spacingAndGlyphs">period</tspan> <tspan x="375.93" textLength="142.42" lengthAdjust="spacingAndGlyphs">resolution</tspan> <tspan x="528.40" textLength="41.10" lengthAdjust="spacingAndGlyphs">(Å)</tspan></text>
<g transform="translate(22.0,271.4) rotate(-90)"><text y="0" font-size="29.7" ><tspan x="-2.24" textLength="19.75" lengthAdjust="spacingAndGlyphs">R</tspan> <tspan x="26.34" textLength="84.17" lengthAdjust="spacingAndGlyphs">factor</tspan></text></g>
</g>
</svg>
</body>
</html>
